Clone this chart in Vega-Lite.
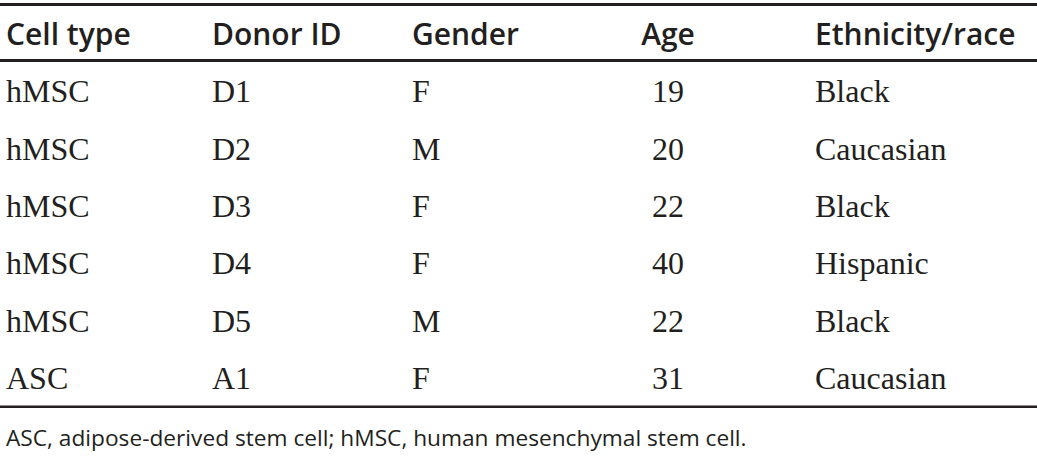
{
  "$schema": "https://vega.github.io/schema/vega-lite/v6.json",
  "width": 1037,
  "height": 456,
  "padding": 0,
  "autosize": {"type": "none"},
  "background": "white",
  "config": {"view": {"stroke": null}},
  "datasets": {
    "cells": [
      {"row": 0, "col": 0, "text": "Cell type"},
      {"row": 0, "col": 1, "text": "Donor ID"},
      {"row": 0, "col": 2, "text": "Gender"},
      {"row": 0, "col": 3, "text": "Age"},
      {"row": 0, "col": 4, "text": "Ethnicity/race"},
      {"row": 1, "col": 0, "text": "hMSC"},
      {"row": 1, "col": 1, "text": "D1"},
      {"row": 1, "col": 2, "text": "F"},
      {"row": 1, "col": 3, "text": "19"},
      {"row": 1, "col": 4, "text": "Black"},
      {"row": 2, "col": 0, "text": "hMSC"},
      {"row": 2, "col": 1, "text": "D2"},
      {"row": 2, "col": 2, "text": "M"},
      {"row": 2, "col": 3, "text": "20"},
      {"row": 2, "col": 4, "text": "Caucasian"},
      {"row": 3, "col": 0, "text": "hMSC"},
      {"row": 3, "col": 1, "text": "D3"},
      {"row": 3, "col": 2, "text": "F"},
      {"row": 3, "col": 3, "text": "22"},
      {"row": 3, "col": 4, "text": "Black"},
      {"row": 4, "col": 0, "text": "hMSC"},
      {"row": 4, "col": 1, "text": "D4"},
      {"row": 4, "col": 2, "text": "F"},
      {"row": 4, "col": 3, "text": "40"},
      {"row": 4, "col": 4, "text": "Hispanic"},
      {"row": 5, "col": 0, "text": "hMSC"},
      {"row": 5, "col": 1, "text": "D5"},
      {"row": 5, "col": 2, "text": "M"},
      {"row": 5, "col": 3, "text": "22"},
      {"row": 5, "col": 4, "text": "Black"},
      {"row": 6, "col": 0, "text": "ASC"},
      {"row": 6, "col": 1, "text": "A1"},
      {"row": 6, "col": 2, "text": "F"},
      {"row": 6, "col": 3, "text": "31"},
      {"row": 6, "col": 4, "text": "Caucasian"}
    ],
    "rules": [
      {"line": "top", "row": -0.706},
      {"line": "header", "row": 0.27},
      {"line": "bottom", "row": 6.31}
    ],
    "note": [
      {"row": 7, "col": 0, "text": "ASC, adipose-derived stem cell; hMSC, human mesenchymal stem cell."}
    ]
  },
  "layer": [
    {
      "data": {"name": "rules"},
      "mark": {"type": "rule", "color": "#231f20"},
      "encoding": {
        "y": {"field": "row", "type": "quantitative", "axis": null,
          "scale": {"domain": [0, 6], "range": [45, 389], "nice": false, "zero": false}},
        "strokeWidth": {"field": "line", "type": "nominal", "legend": null,
          "scale": {"domain": ["top", "header", "bottom"], "range": [3.2, 2.4, 2.4]}}
      }
    },
    {
      "data": {"name": "cells"},
      "transform": [{"filter": "datum.row === 0 && datum.col !== 3"}],
      "mark": {"type": "text", "align": "left", "baseline": "alphabetic", "font": "Open Sans", "fontWeight": 600, "fontSize": 30, "color": "#231f20"},
      "encoding": {
        "x": {"field": "col", "type": "quantitative", "axis": null,
          "scale": {"domain": [0, 1, 2, 3, 4], "range": [6, 212, 412, 668, 815], "nice": false, "zero": false}},
        "y": {"field": "row", "type": "quantitative"},
        "text": {"field": "text"}
      }
    },
    {
      "data": {"name": "cells"},
      "transform": [{"filter": "datum.row === 0 && datum.col === 3"}],
      "mark": {"type": "text", "align": "center", "baseline": "alphabetic", "font": "Open Sans", "fontWeight": 600, "fontSize": 30, "color": "#231f20"},
      "encoding": {
        "x": {"field": "col", "type": "quantitative"},
        "y": {"field": "row", "type": "quantitative"},
        "text": {"field": "text"}
      }
    },
    {
      "data": {"name": "cells"},
      "transform": [{"filter": "datum.row > 0 && datum.col !== 3"}],
      "mark": {"type": "text", "align": "left", "baseline": "alphabetic", "font": "Liberation Serif", "fontSize": 32, "color": "#231f20"},
      "encoding": {
        "x": {"field": "col", "type": "quantitative"},
        "y": {"field": "row", "type": "quantitative"},
        "text": {"field": "text"}
      }
    },
    {
      "data": {"name": "cells"},
      "transform": [{"filter": "datum.row > 0 && datum.col === 3"}],
      "mark": {"type": "text", "align": "center", "baseline": "alphabetic", "font": "Liberation Serif", "fontSize": 32, "color": "#231f20"},
      "encoding": {
        "x": {"field": "col", "type": "quantitative"},
        "y": {"field": "row", "type": "quantitative"},
        "text": {"field": "text"}
      }
    },
    {
      "data": {"name": "note"},
      "mark": {"type": "text", "align": "left", "baseline": "alphabetic", "font": "Open Sans", "fontSize": 22.7, "color": "#231f20"},
      "encoding": {
        "x": {"field": "col", "type": "quantitative"},
        "y": {"field": "row", "type": "quantitative"},
        "text": {"field": "text"}
      }
    }
  ]
}
